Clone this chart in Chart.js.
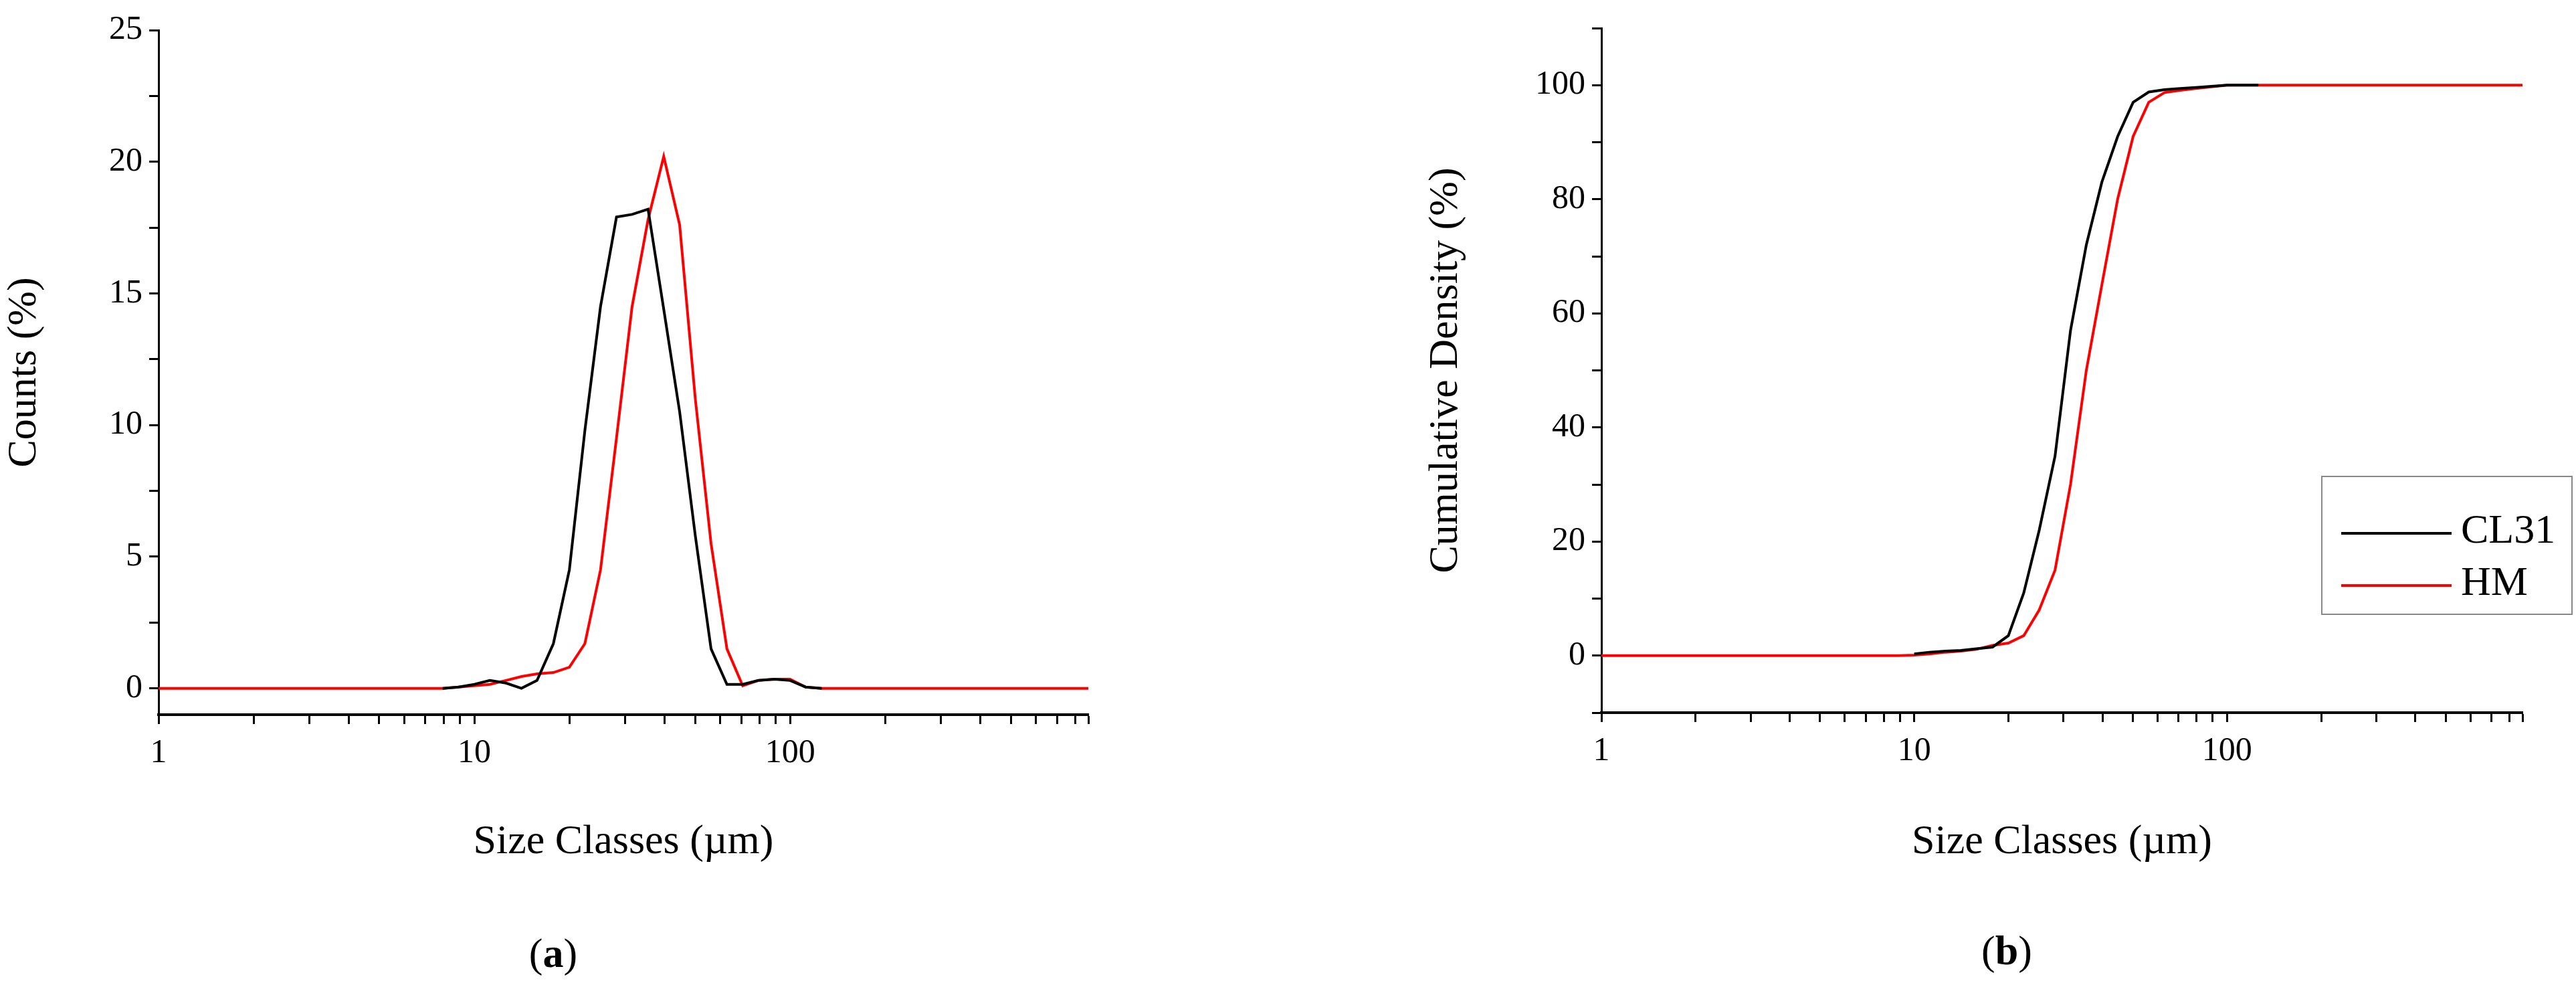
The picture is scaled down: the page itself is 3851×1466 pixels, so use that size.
<!DOCTYPE html>
<html>
<head>
<meta charset="utf-8">
<script src="https://cdn.jsdelivr.net/npm/chart.js@4.4.1/dist/chart.umd.min.js"></script>
<style>
  body { margin: 0; background: #fff; width: 3851px; height: 1466px; position: relative; overflow: hidden; font-family: "Liberation Serif", "DejaVu Serif", serif; }
  canvas { position: absolute; top: 0; }
  .cap { position: absolute; font-size: 62px; transform: translate(-50%, -50%); }
  #legend { position: absolute; left: 3470px; top: 711px; width: 376px; height: 208px; border: 2px solid #888; box-sizing: border-box; font-size: 62px; }
  #legend div { position: absolute; left: 28px; }
  #legend span { display: inline-block; width: 165px; height: 4px; vertical-align: middle; margin-right: 14px; }
</style>
</head>
<body>
<canvas id="chartA"></canvas>
<canvas id="chartB"></canvas>
<div class="cap" style="left:827px; top:1424px">(<b>a</b>)</div>
<div class="cap" style="left:3000px; top:1420px">(<b>b</b>)</div>
<div id="legend">
  <div style="top:42px"><span style="background:#000"></span>CL31</div>
  <div style="top:120px"><span style="background:#ff0000"></span>HM</div>
</div>
<script>
// size bins (µm)
const sizes = [7.94, 8.91, 10, 11.2, 12.6, 14.1, 15.8, 17.8, 20, 22.4, 25.1, 28.2, 31.6, 35.5, 39.8, 44.7, 50.1, 56.2, 63.1, 70.8, 79.4, 89.1, 100, 112, 126];

// (a) counts %
const countsCL31 = [0, 0.05, 0.15, 0.3, 0.2, 0, 0.3, 1.7, 4.5, 9.8, 14.5, 17.9, 18.0, 18.2, 14.4, 10.5, 5.8, 1.5, 0.15, 0.15, 0.3, 0.35, 0.3, 0.05, 0];
const countsHM = [0, 0.05, 0.1, 0.15, 0.3, 0.45, 0.55, 0.6, 0.8, 1.7, 4.5, 9.5, 14.5, 17.8, 20.2, 17.6, 11, 5.5, 1.5, 0.1, 0.3, 0.35, 0.35, 0.05, 0];

// (b) cumulative %
const cumCL31 = [0, 0.1, 0.3, 0.6, 0.8, 0.9, 1.2, 1.5, 3.5, 11, 22, 35, 57, 72, 83, 91, 97, 98.8, 99.2, 99.4, 99.6, 99.8, 100, 100, 100];
const cumHM = [0, 0, 0.1, 0.3, 0.6, 0.8, 1.1, 1.8, 2.2, 3.5, 8, 15, 30, 50, 65, 80, 91, 97, 98.7, 99.1, 99.4, 99.7, 100, 100, 100];

const xMin = 1, xMax = 880;
const xLabels = [1, 10, 100];

function pts(xs, ys) { return xs.map((x, i) => ({ x: x, y: ys[i] })); }

const FONT = "'Liberation Serif', 'DejaVu Serif', serif";

function logTicks(scale) {
  const t = [];
  for (let d = 1; d <= 100; d *= 10)
    for (let m = 1; m < 10; m++) if (d * m <= xMax) t.push({ value: d * m });
  t.push({ value: xMax });
  scale.ticks = t;
}

function makeChart(id, left, w, opts) {
  const c = document.getElementById(id);
  c.style.left = left + 'px';
  c.width = w; c.height = 1300;
  c.style.width = w + 'px'; c.style.height = '1300px';
  return new Chart(c, {
    type: 'scatter',
    data: { datasets: opts.datasets },
    options: {
      responsive: false,
      animation: false,
      devicePixelRatio: 1,
      layout: { padding: { left: opts.padLeft, right: opts.padRight, top: opts.padTop, bottom: 0 } },
      plugins: { legend: { display: false }, tooltip: { enabled: false } },
      elements: { point: { radius: 0 }, line: { borderWidth: 4, tension: 0 } },
      scales: {
        x: {
          type: 'logarithmic', min: xMin, max: xMax,
          afterBuildTicks: logTicks,
          afterFit: s => { s.height = 1300 - opts.xAxisY; },
          border: { color: '#000', width: 4 },
          grid: { drawOnChartArea: false, tickLength: 14, tickWidth: 3, tickColor: '#000' },
          ticks: { autoSkip: false, maxRotation: 0, padding: 14, color: '#000', font: { family: FONT, size: 50 },
            callback: v => xLabels.includes(v) ? String(v) : '' },
          title: { display: true, text: 'Size Classes (µm)', color: '#000', font: { family: FONT, size: 62 }, padding: { top: 70 } }
        },
        y: {
          min: opts.yMin, max: opts.yMax,
          afterBuildTicks: s => { s.ticks = opts.yTicks.map(v => ({ value: v })); },
          afterFit: s => { s.width = opts.yWidth; },
          border: { color: '#000', width: 3 },
          grid: { drawOnChartArea: false, tickLength: 14, tickWidth: 3, tickColor: '#000' },
          ticks: { autoSkip: false, padding: 10, color: '#000', font: { family: FONT, size: 50 },
            callback: v => opts.yLabels.includes(v) ? String(v) : '' },
          title: { display: true, text: opts.yTitle, color: '#000', font: { family: FONT, size: 62 }, padding: { top: 0, bottom: 10 } }
        }
      }
    }
  });
}

makeChart('chartA', 0, 1700, {
  padLeft: 0, padRight: 73, padTop: 45, xAxisY: 1068, yWidth: 237,
  yMin: -1, yMax: 25,
  yTicks: [0, 2.5, 5, 7.5, 10, 12.5, 15, 17.5, 20, 22.5, 25],
  yLabels: [0, 5, 10, 15, 20, 25],
  yTitle: 'Counts (%)',
  datasets: [
    { data: pts(sizes, countsCL31), borderColor: '#000', showLine: true },
    { data: [{ x: xMin, y: 0 }].concat(pts(sizes, countsHM), [{ x: xMax, y: 0 }]), borderColor: '#ff0000', showLine: true }
  ]
});

makeChart('chartB', 1900, 1951, {
  padLeft: 225, padRight: 80, padTop: 42, xAxisY: 1065, yWidth: 269,
  yMin: -10, yMax: 110,
  yTicks: [-10, 0, 10, 20, 30, 40, 50, 60, 70, 80, 90, 100, 110],
  yLabels: [0, 20, 40, 60, 80, 100],
  yTitle: 'Cumulative Density (%)',
  datasets: [
    { data: pts(sizes.slice(2), cumCL31.slice(2)), borderColor: '#000', showLine: true },
    { data: [{ x: xMin, y: 0 }].concat(pts(sizes, cumHM), [{ x: xMax, y: 100 }]), borderColor: '#ff0000', showLine: true }
  ]
});
</script>
</body>
</html>
